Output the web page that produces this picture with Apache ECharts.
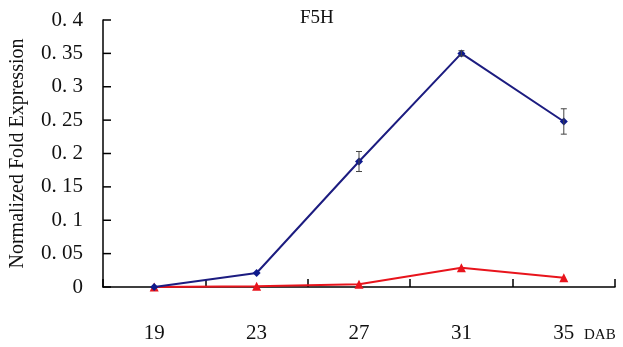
<!DOCTYPE html>
<html>
<head>
<meta charset="utf-8">
<script src="https://cdn.jsdelivr.net/npm/echarts@6/dist/echarts.min.js"></script>
<style>
  html, body { margin: 0; padding: 0; background: #fff; }
  #chart { width: 623px; height: 347px; }
</style>
</head>
<body>
<div id="chart"></div>
<script>
// Days after bloom
const categories = ['19', '23', '27', '31', '35'];
// F5H relative expression, two lines
const blueValues = [0, 0.021, 0.188, 0.350, 0.248];
const blueErrors = [0, 0, 0.015, 0.004, 0.019];
const redValues = [0, 0.001, 0.004, 0.029, 0.014];
// y-axis ticks
const yTicks = [0, 0.05, 0.1, 0.15, 0.2, 0.25, 0.3, 0.35, 0.4];
const yMin = 0;
const yMax = 0.4;
const yStep = 0.05;

const serif = '"Liberation Serif", "DejaVu Serif", serif';

const errorData = categories.map((c, i) => [i, blueValues[i] - blueErrors[i], blueValues[i] + blueErrors[i]])
  .filter((d, i) => blueErrors[i] > 0);
const tickData = yTicks.map(v => [0, v]);

const chart = echarts.init(document.getElementById('chart'), null, { renderer: 'canvas' });
chart.setOption({
  animation: false,
  backgroundColor: '#ffffff',
  title: {
    text: 'F5H',
    left: 295,
    top: 4,
    textStyle: { fontFamily: serif, fontSize: 19, fontWeight: 'normal', color: '#111' }
  },
  grid: { left: 102, right: 8, top: 20, bottom: 60 },
  xAxis: {
    type: 'category',
    data: categories,
    boundaryGap: true,
    axisLine: { show: true, lineStyle: { color: '#000', width: 1.5 } },
    axisTick: { show: true, inside: true, interval: 0, length: 8, lineStyle: { color: '#000', width: 1.5 } },
    axisLabel: { margin: 36, fontFamily: serif, fontSize: 21, color: '#111' },
    splitLine: { show: false }
  },
  yAxis: {
    type: 'value',
    min: yMin,
    max: yMax,
    interval: yStep,
    name: 'Normalized Fold Expression',
    nameLocation: 'middle',
    nameRotate: 90,
    nameGap: 75,
    nameTextStyle: { fontFamily: serif, fontSize: 20, color: '#111' },
    axisLine: { show: true, lineStyle: { color: '#000', width: 1.5 } },
    axisTick: { show: false },
    axisLabel: {
      margin: 20,
      fontFamily: serif,
      fontSize: 21,
      color: '#111',
      formatter: v => (v === 0 ? '0' : String(Math.round(v * 100) / 100).replace('.', '. '))
    },
    splitLine: { show: false }
  },
  graphic: [{
    type: 'text',
    left: 584,
    top: 328,
    style: { text: 'DAB', font: '15px ' + serif, fill: '#111' }
  }],
  series: [
    {
      // inward y-axis tick marks, placed through the value scale
      type: 'custom',
      data: tickData,
      clip: false,
      silent: true,
      z: 2,
      renderItem: (params, api) => {
        const y = api.coord([0, api.value(1)])[1];
        const x0 = params.coordSys.x;
        return {
          type: 'line',
          shape: { x1: x0, y1: y, x2: x0 + 8, y2: y },
          style: { stroke: '#000', lineWidth: 1.5 }
        };
      }
    },
    {
      type: 'line',
      data: redValues,
      symbol: 'triangle',
      symbolSize: 9,
      lineStyle: { color: '#e8141c', width: 2 },
      itemStyle: { color: '#e8141c' },
      z: 3
    },
    {
      type: 'line',
      data: blueValues,
      symbol: 'diamond',
      symbolSize: 8,
      lineStyle: { color: '#1c1c80', width: 2 },
      itemStyle: { color: '#0e1a8c' },
      z: 4
    },
    {
      type: 'custom',
      data: errorData,
      z: 5,
      renderItem: (params, api) => {
        const x = api.coord([api.value(0), api.value(1)])[0];
        const lo = api.coord([api.value(0), api.value(1)])[1];
        const hi = api.coord([api.value(0), api.value(2)])[1];
        const cap = 3;
        const style = { stroke: '#444', lineWidth: 1 };
        return {
          type: 'group',
          children: [
            { type: 'line', shape: { x1: x, y1: lo, x2: x, y2: hi }, style },
            { type: 'line', shape: { x1: x - cap, y1: lo, x2: x + cap, y2: lo }, style },
            { type: 'line', shape: { x1: x - cap, y1: hi, x2: x + cap, y2: hi }, style }
          ]
        };
      }
    }
  ]
});
</script>
</body>
</html>
